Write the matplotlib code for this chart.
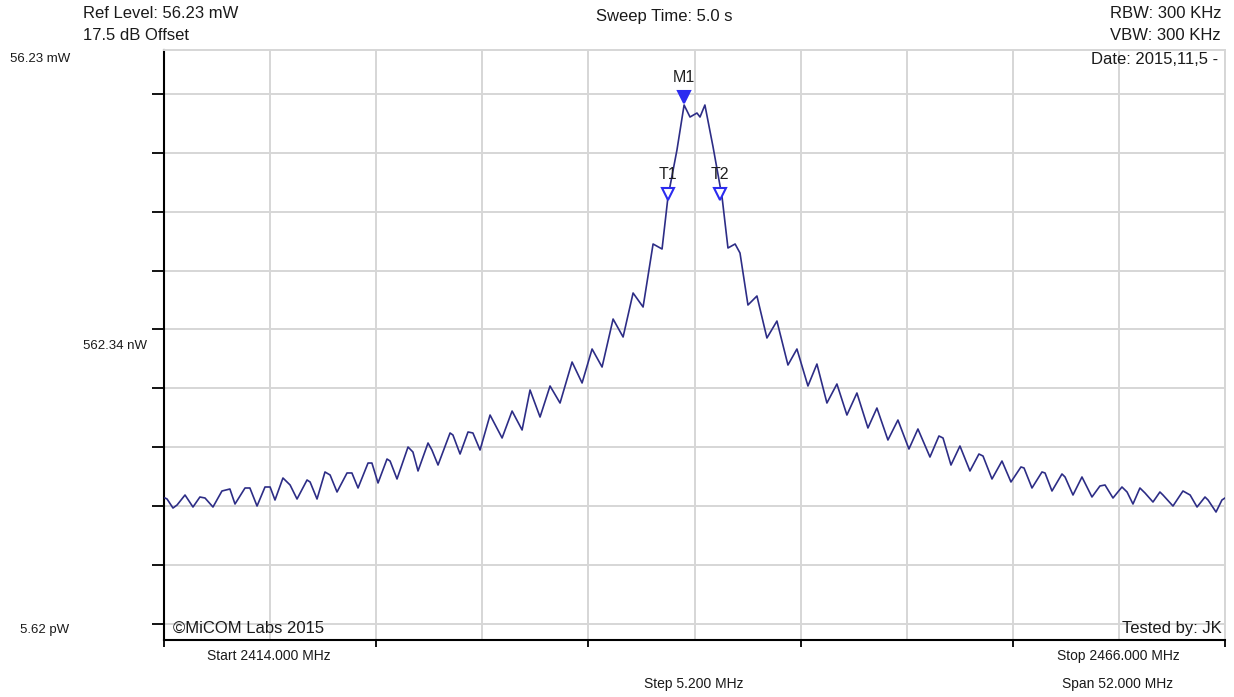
import numpy as np
import matplotlib
matplotlib.use("Agg")
import matplotlib.pyplot as plt

plt.rcParams['font.family'] = ['Liberation Sans', 'DejaVu Sans']

# trace: frequency (MHz) and level (dBm)
freq_mhz = [
    2414.05, 2414.15, 2414.44, 2414.64, 2415.03, 2415.42, 2415.76, 2416.01, 2416.40, 2416.84,
    2417.23, 2417.48, 2417.97, 2418.21, 2418.56, 2418.95, 2419.20, 2419.44, 2419.83, 2420.18,
    2420.52, 2421.01, 2421.16, 2421.50, 2421.89, 2422.14, 2422.48, 2422.97, 2423.21, 2423.51,
    2424.00, 2424.19, 2424.49, 2424.93, 2425.08, 2425.42, 2425.96, 2426.20, 2426.45, 2426.94,
    2427.13, 2427.43, 2428.02, 2428.16, 2428.51, 2428.90, 2429.14, 2429.49, 2429.98, 2430.57,
    2431.06, 2431.55, 2431.94, 2432.43, 2432.92, 2433.41, 2434.00, 2434.49, 2434.98, 2435.47,
    2436.01, 2436.50, 2436.99, 2437.48, 2437.97, 2438.41, 2438.70, 2439.14, 2439.49, 2439.78,
    2440.12, 2440.27, 2440.51, 2440.91, 2441.35, 2441.64, 2441.99, 2442.23, 2442.62, 2443.06,
    2443.55, 2444.04, 2444.58, 2445.02, 2445.56, 2446.00, 2446.49, 2446.98, 2447.47, 2447.96,
    2448.50, 2448.94, 2449.48, 2449.97, 2450.51, 2450.95, 2451.54, 2451.98, 2452.18, 2452.57,
    2453.01, 2453.50, 2453.94, 2454.14, 2454.58, 2455.07, 2455.51, 2456.00, 2456.15, 2456.54,
    2457.03, 2457.18, 2457.52, 2458.01, 2458.16, 2458.55, 2458.99, 2459.48, 2459.87, 2460.12,
    2460.51, 2460.95, 2461.20, 2461.49, 2461.83, 2462.08, 2462.47, 2462.81, 2462.96, 2463.45,
    2463.94, 2464.29, 2464.63, 2465.02, 2465.17, 2465.56, 2465.85, 2466.00,
]
level_dbm = [
    -61.12, -61.29, -62.82, -62.31, -60.61, -62.65, -60.95, -61.12, -62.65, -59.93,
    -59.59, -62.14, -59.42, -59.42, -62.48, -59.25, -59.25, -61.46, -57.72, -58.91,
    -61.29, -58.06, -58.40, -61.29, -56.70, -57.21, -60.10, -56.87, -56.87, -59.42,
    -55.18, -55.18, -58.57, -54.50, -54.84, -57.89, -52.46, -53.31, -56.53, -51.78,
    -52.97, -55.52, -50.08, -50.42, -53.65, -49.91, -50.08, -52.97, -47.03, -50.93,
    -46.35, -49.57, -42.78, -47.37, -42.10, -44.99, -38.03, -41.59, -35.82, -38.88,
    -30.73, -33.78, -26.31, -28.69, -17.99, -18.84, -10.01, -2.03, 5.61, 3.57,
    4.25, 3.57, 5.61, -1.52, -10.01, -18.67, -17.99, -19.52, -28.35, -26.82,
    -33.95, -31.07, -38.54, -35.82, -42.10, -38.37, -44.99, -41.76, -47.03, -43.29,
    -49.23, -45.84, -51.27, -47.88, -52.80, -49.40, -54.16, -50.59, -50.93, -55.52,
    -52.29, -56.53, -53.65, -53.99, -57.89, -54.84, -58.40, -55.85, -56.02, -59.42,
    -56.70, -56.87, -59.93, -57.04, -57.55, -60.61, -57.55, -60.95, -59.08, -58.91,
    -61.12, -59.25, -60.10, -62.14, -59.42, -60.27, -61.80, -60.10, -60.61, -62.48,
    -59.93, -60.61, -62.65, -60.95, -61.46, -63.50, -61.46, -61.12,
]

marker_names = ['M1', 'T1', 'T2']
marker_freq = [2439.49, 2438.70, 2441.25]
marker_level = [6.97, -9.50, -9.50]

f_start, f_stop = 2414.0, 2466.0
f_step = 5.2
ref_bottom = -82.5   # 5.62 pW
div_db = 10.0

fig = plt.figure(figsize=(12.34, 6.97), dpi=100)
ax = fig.add_axes([164 / 1234, 1 - 640 / 697, (1225 - 164) / 1234, (640 - 50) / 697])

grid_c = '#d6d6d6'
xgrid = [f_start + f_step * k for k in range(11)]
ygrid = [ref_bottom + div_db * k for k in range(10)]
for xv in xgrid:
    ax.axvline(xv, color=grid_c, lw=1.4, zorder=1)
for yv in ygrid:
    ax.axhline(yv, color=grid_c, lw=1.4, zorder=1)

ax.plot(freq_mhz, level_dbm, color='#2d2d86', lw=1.2, zorder=3)

for name, fx, ly in zip(marker_names, marker_freq, marker_level):
    face = '#2b2bf0' if name == 'M1' else 'white'
    ax.plot(fx, ly, marker='v', ms=9, mfc=face, mec='#2b2bf0', mew=1.5, zorder=4)
    ax.annotate(name, (fx, ly), xytext=(0, 14), textcoords='offset points',
                ha='center', va='center', fontsize=11.5, color='#202020', zorder=5)

ax.set_xlim(f_start, f_stop)
ax.set_ylim(-85.23, 14.95)

ax.set_xticks(xgrid[::2])
ax.set_yticks(ygrid)
ax.set_xticklabels([])
ax.set_yticklabels([])
ax.tick_params(axis='y', direction='out', length=9, width=1.3, color='black')
ax.tick_params(axis='x', direction='out', length=5, width=1.3, color='black')

for side in ['top', 'right']:
    ax.spines[side].set_color(grid_c)
    ax.spines[side].set_linewidth(1.4)
for side in ['left', 'bottom']:
    ax.spines[side].set_color('black')
    ax.spines[side].set_linewidth(1.5)


def px_text(x, y, s, ha='left', size=12):
    fig.text(x / 1234, 1 - y / 697, s, ha=ha, va='center', fontsize=size, color='#1a1a1a')


px_text(83, 14, 'Ref Level: 56.23 mW')
px_text(83, 35, '17.5 dB Offset')
px_text(664, 16, 'Sweep Time: 5.0 s', ha='center')
px_text(1221, 14, 'RBW: 300 KHz', ha='right')
px_text(1221, 35, 'VBW: 300 KHz', ha='right')
px_text(1218, 59, 'Date: 2015,11,5 -', ha='right')

px_text(10, 59, '56.23 mW', size=9.5)
px_text(83, 346, '562.34 nW', size=9.5)
px_text(20, 630, '5.62 pW', size=9.5)

px_text(173, 628, '\u00a9MiCOM Labs 2015')
px_text(1222, 628, 'Tested by: JK', ha='right')

px_text(269, 656, 'Start 2414.000 MHz', ha='center', size=10)
px_text(1118, 656, 'Stop 2466.000 MHz', ha='center', size=10)
px_text(694, 684, 'Step 5.200 MHz', ha='center', size=10)
px_text(1118, 684, 'Span 52.000 MHz', ha='center', size=10)

fig.savefig('out.png', dpi=100)
